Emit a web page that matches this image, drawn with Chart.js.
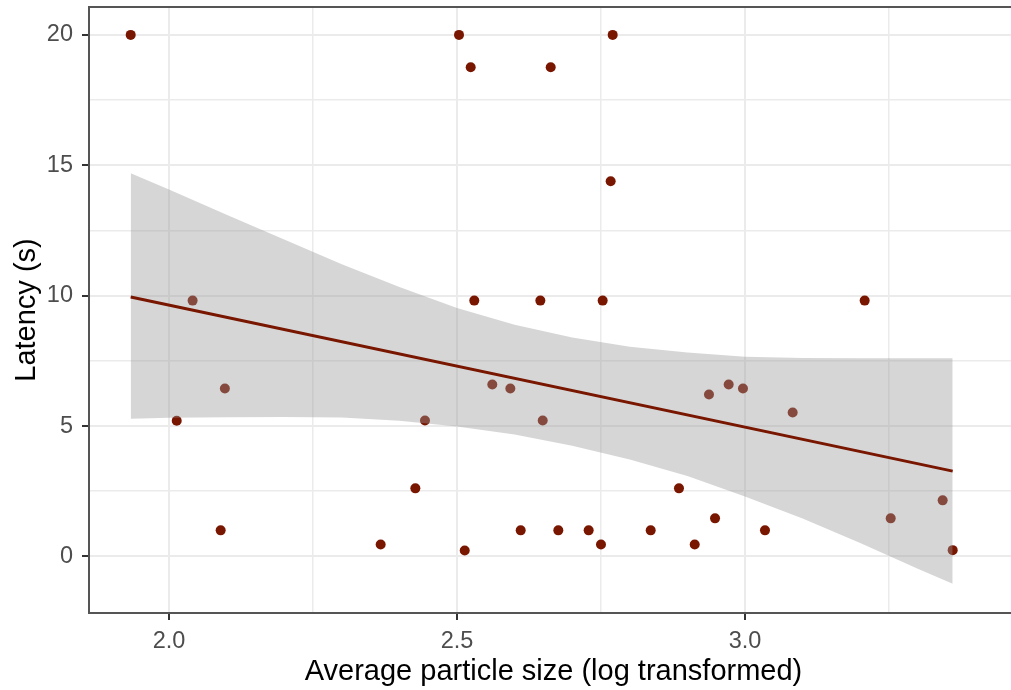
<!DOCTYPE html>
<html><head><meta charset="utf-8">
<script src="https://cdn.jsdelivr.net/npm/chart.js@4/dist/chart.umd.min.js"></script>
<style>html,body{margin:0;padding:0;overflow:hidden;background:#fff;width:1011px;height:690px}#wrap{width:1011px;height:690px;overflow:hidden;position:relative}canvas{display:block;position:absolute;left:0;top:0}</style>
</head><body>
<div id="wrap"><canvas id="c" width="1030" height="690" style="width:1030px;height:690px"></canvas></div>
<script>
// Observed points
const pointX = [1.9335, 2.0134, 2.041, 2.0897, 2.097, 2.3675, 2.4277, 2.4444, 2.5035, 2.5134,
  2.5238, 2.530, 2.5613, 2.5926, 2.6106, 2.6447, 2.6488, 2.6627, 2.6759, 2.7286,
  2.75, 2.7529, 2.7668, 2.7703, 2.8363, 2.8854, 2.9127, 2.9375, 2.948, 2.9717,
  2.9965, 3.0347, 3.0828, 3.2078, 3.253, 3.3432, 3.3606];
const pointY = [20.0, 5.2, 9.81, 1.0, 6.44, 0.46, 2.61, 5.21, 20.0, 0.23,
  18.76, 9.81, 6.59, 6.44, 1.0, 9.81, 5.21, 18.76, 1.0, 1.0,
  0.46, 9.81, 14.39, 20.0, 1.0, 2.61, 0.46, 6.21, 1.46, 6.59,
  6.44, 1.0, 5.52, 9.81, 1.46, 2.15, 0.24];

// Confidence band
const bandX = [1.9335, 2.0, 2.1, 2.2, 2.3, 2.4, 2.5, 2.6, 2.7, 2.8, 2.9, 3.0, 3.1, 3.2, 3.3, 3.3606];
const bandUpper = [14.69, 14.07, 13.1, 12.15, 11.2, 10.33, 9.53, 8.88, 8.4, 8.04, 7.82, 7.66, 7.61, 7.6, 7.6, 7.6];
const bandLower = [5.28, 5.32, 5.34, 5.35, 5.33, 5.2, 4.98, 4.68, 4.24, 3.72, 3.08, 2.3, 1.45, 0.51, -0.47, -1.05];

// Fitted line endpoints
const fitX = [1.9335, 3.3606];
const fitY = [9.95, 3.27];

// Ticks
const xMajorTicks = [2.0, 2.5, 3.0];
const xTickLabels = ['2.0', '2.5', '3.0'];
const xMinorTicks = [2.25, 2.75, 3.25];
const yMajorTicks = [0, 5, 10, 15, 20];
const yTickLabels = ['0', '5', '10', '15', '20'];
const yMinorTicks = [2.5, 7.5, 12.5, 17.5];

const FONT = "'Liberation Sans', Arial, sans-serif";
const PT = '#781600';

function tickSetter(major, minor) {
  return s => { s.ticks = major.concat(minor).sort((a, b) => a - b).map(v => ({ value: v })); };
}
function labeler(major, labels) {
  return v => { const i = major.indexOf(v); return i >= 0 ? labels[i] : ''; };
}
function gridOpts(major) {
  return {
    color: '#ebebeb',
    lineWidth: c => (major.indexOf(c.tick && c.tick.value) >= 0 ? 2 : 1.5),
    tickColor: c => (major.indexOf(c.tick && c.tick.value) >= 0 ? '#333333' : 'rgba(0,0,0,0)'),
    tickLength: 7,
    tickWidth: 2,
    drawTicks: true
  };
}

const frame = {
  id: 'frame',
  afterDatasetsDraw(chart) {
    const { ctx, chartArea: a } = chart;
    ctx.save();
    ctx.strokeStyle = '#555555';
    ctx.lineWidth = 2;
    ctx.beginPath();
    ctx.moveTo(a.left, a.top);
    ctx.lineTo(a.right, a.top);
    ctx.stroke();
    ctx.restore();
  }
};

new Chart(document.getElementById('c'), {
  type: 'scatter',
  data: {
    datasets: [
      {
        type: 'scatter',
        data: pointX.map((x, i) => ({ x, y: pointY[i] })),
        backgroundColor: PT, borderWidth: 0, pointRadius: 5, pointHoverRadius: 5,
        order: 3
      },
      {
        type: 'line',
        data: bandX.map((x, i) => ({ x, y: bandUpper[i] })),
        borderColor: 'rgba(0,0,0,0)', borderWidth: 0, pointRadius: 0, fill: false, tension: 0,
        order: 2
      },
      {
        type: 'line',
        data: bandX.map((x, i) => ({ x, y: bandLower[i] })),
        borderColor: 'rgba(0,0,0,0)', borderWidth: 0, pointRadius: 0, tension: 0,
        fill: '-1', backgroundColor: 'rgba(153,153,153,0.4)',
        order: 2
      },
      {
        type: 'line',
        data: fitX.map((x, i) => ({ x, y: fitY[i] })),
        borderColor: PT, borderWidth: 3, pointRadius: 0, fill: false,
        order: 1
      }
    ]
  },
  options: {
    responsive: false,
    devicePixelRatio: 1,
    animation: false,
    events: [],
    layout: { padding: { top: 7, right: 12, bottom: 0, left: 0 } },
    plugins: { legend: { display: false }, tooltip: { enabled: false } },
    scales: {
      x: {
        type: 'linear', min: 1.8611, max: 3.474,
        afterBuildTicks: tickSetter(xMajorTicks, xMinorTicks),
        ticks: { callback: labeler(xMajorTicks, xTickLabels), autoSkip: false, maxRotation: 0,
          font: { family: FONT, size: 23.5 }, color: '#4d4d4d', padding: 7 },
        grid: gridOpts(xMajorTicks),
        border: { display: true, color: '#555555', width: 2 },
        title: { display: true, text: 'Average particle size (log transformed)',
          font: { family: FONT, size: 29 }, color: '#000000', padding: { top: 4, bottom: 1 } },
        afterFit: s => { s.height = 77; s.paddingLeft = 0; s.paddingRight = 0; }
      },
      y: {
        type: 'linear', min: -2.17, max: 21.07,
        afterBuildTicks: tickSetter(yMajorTicks, yMinorTicks),
        ticks: { callback: labeler(yMajorTicks, yTickLabels), autoSkip: false,
          font: { family: FONT, size: 23.5 }, color: '#4d4d4d', padding: 9 },
        grid: gridOpts(yMajorTicks),
        border: { display: true, color: '#555555', width: 2 },
        title: { display: true, text: 'Latency (s)',
          font: { family: FONT, size: 29 }, color: '#000000', padding: { top: 10, bottom: 0 } },
        afterFit: s => { s.width = 89; s.paddingTop = 0; s.paddingBottom = 0; }
      }
    }
  },
  plugins: [frame]
});
</script>
</body></html>
